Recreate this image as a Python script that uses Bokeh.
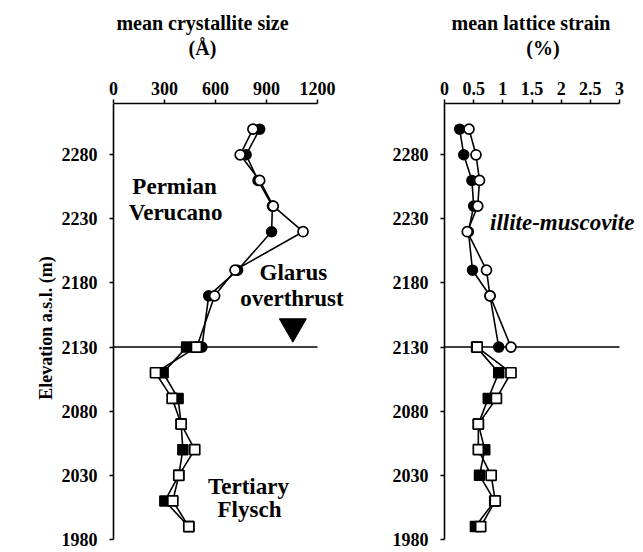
from bokeh.plotting import figure
from bokeh.layouts import row
from bokeh.models import Label, Range1d, FixedTicker, Title
from bokeh.embed import file_html
from bokeh.resources import INLINE

# ---- data ----
elev_verrucano = [2300, 2280, 2260, 2240, 2220, 2190, 2170, 2130]
elev_flysch = [2130, 2110, 2090, 2070, 2050, 2030, 2010, 1990]

size_verr_filled = [860, 780, 850, 935, 930, 730, 560, 520]
size_verr_open = [820, 745, 860, 940, 1115, 715, 595, 490]
size_flysch_filled = [430, 292, 380, 398, 408, 384, 302, 443]
size_flysch_open = [488, 247, 345, 398, 478, 384, 349, 443]

strain_verr_filled = [0.26, 0.33, 0.47, 0.50, 0.41, 0.48, 0.78, 0.93]
strain_verr_open = [0.42, 0.54, 0.60, 0.57, 0.39, 0.72, 0.78, 1.14]
strain_flysch_filled = [0.55, 0.93, 0.75, 0.58, 0.69, 0.60, 0.86, 0.53]
strain_flysch_open = [0.56, 1.14, 0.89, 0.58, 0.58, 0.80, 0.87, 0.62]

elev_ticks = [1980, 2030, 2080, 2130, 2180, 2230, 2280]
elev_bounds = (1980, 2320)
size_ticks = [0, 300, 600, 900, 1200]
strain_ticks = [0, 0.5, 1, 1.5, 2, 2.5, 3]
strain_tick_labels = ["0", "0.5", "1", "1.5", "2", "2.5", "3"]
thrust_elev = 2130

FONT = "Liberation Serif"


def style(p, xticks, xlabels, title, unit, fixed_y):
    p.outline_line_color = None
    p.grid.visible = False
    p.xaxis.ticker = FixedTicker(ticks=xticks)
    p.xaxis.bounds = (xticks[0], xticks[-1])
    if xlabels:
        p.xaxis.major_label_overrides = {t: l for t, l in zip(xticks, xlabels)}
    p.yaxis.ticker = FixedTicker(ticks=elev_ticks)
    p.yaxis.bounds = elev_bounds
    if fixed_y:
        p.yaxis.fixed_location = xticks[0]
    for ax in (p.xaxis[0], p.yaxis[0]):
        ax.axis_line_width = 1.6
        ax.major_tick_line_width = 1.5
        ax.major_tick_out = 4
        ax.major_tick_in = 0
        ax.minor_tick_out = 0
        ax.major_label_text_font = FONT
        ax.major_label_text_font_style = "bold"
        ax.major_label_text_font_size = "18px"
        ax.major_label_text_color = "black"
        ax.axis_line_color = "black"
        ax.major_tick_line_color = "black"
    p.xaxis.major_label_standoff = 5
    p.yaxis.major_label_standoff = 12
    p.xaxis.axis_label = unit
    p.xaxis.axis_label_text_font = FONT
    p.xaxis.axis_label_text_font_style = "bold"
    p.xaxis.axis_label_text_font_size = "20px"
    p.xaxis.axis_label_text_color = "black"
    p.xaxis.axis_label_standoff = 20
    p.title.text = title
    p.title.text_font = FONT
    p.title.text_font_style = "bold"
    p.title.text_font_size = "20px"
    p.title.text_color = "black"
    p.title.standoff = 0
    p.segment(x0=[xticks[0]], y0=[thrust_elev], x1=[xticks[-1]], y1=[thrust_elev],
              line_color="black", line_width=1.5)


def draw(p, xf, xo, elev, marker):
    p.line(xf, elev, line_color="black", line_width=1.6)
    p.line(xo, elev, line_color="black", line_width=1.6)
    p.scatter(xf, elev, marker=marker, size=10, fill_color="black", line_color="black", line_width=1.5)
    p.scatter(xo, elev, marker=marker, size=10, fill_color="white", line_color="black", line_width=1.7)


def label(p, txt, x, y, size, style="bold", align="center"):
    p.add_layout(Label(x=x, y=y, text=txt, text_align=align, text_baseline="middle",
                       text_font=FONT, text_font_style=style, text_font_size=size,
                       text_color="black"))


common = dict(height=552, y_range=Range1d(1969.8, 2320), x_axis_location="above",
              output_backend="svg", toolbar_location=None, title="x",
              min_border_top=103, min_border_bottom=0)

left = figure(width=347, x_range=Range1d(-329.4, 1376.5), min_border_left=57, min_border_right=0, **common)
style(left, size_ticks, None, "mean crystallite size", "(\u00c5)", True)
left.title.align = "center"
left.add_layout(Title(text="Elevation a.s.l. (m)", align="center", text_font=FONT,
                      text_font_style="bold", text_font_size="18px", text_color="black",
                      standoff=4), "left")

draw(left, size_verr_filled, size_verr_open, elev_verrucano, "circle")
draw(left, size_flysch_filled, size_flysch_open, elev_flysch, "square")
left.scatter([1055], [2146], marker="inverted_triangle", size=27, fill_color="black", line_color="black")

for txt, x, y in [("Permian", 359, 2255), ("Verucano", 365, 2235),
                  ("Glarus", 1058, 2188), ("overthrust", 1050, 2168),
                  ("Tertiary", 794, 2021), ("Flysch", 800, 2003)]:
    label(left, txt, x, y, "23px")

right = figure(width=296, x_range=Range1d(0, 3.377), min_border_left=97, min_border_right=2, **common)
style(right, strain_ticks, strain_tick_labels, "mean lattice strain", "(%)", False)
right.title.align = "left"
right.title.offset = 7
draw(right, strain_verr_filled, strain_verr_open, elev_verrucano, "circle")
draw(right, strain_flysch_filled, strain_flysch_open, elev_flysch, "square")
label(right, "illite-muscovite", 0.78, 2227, "23px", style="bold italic", align="left")

p = row(left, right)
open("out.html", "w").write(file_html(p, INLINE))
